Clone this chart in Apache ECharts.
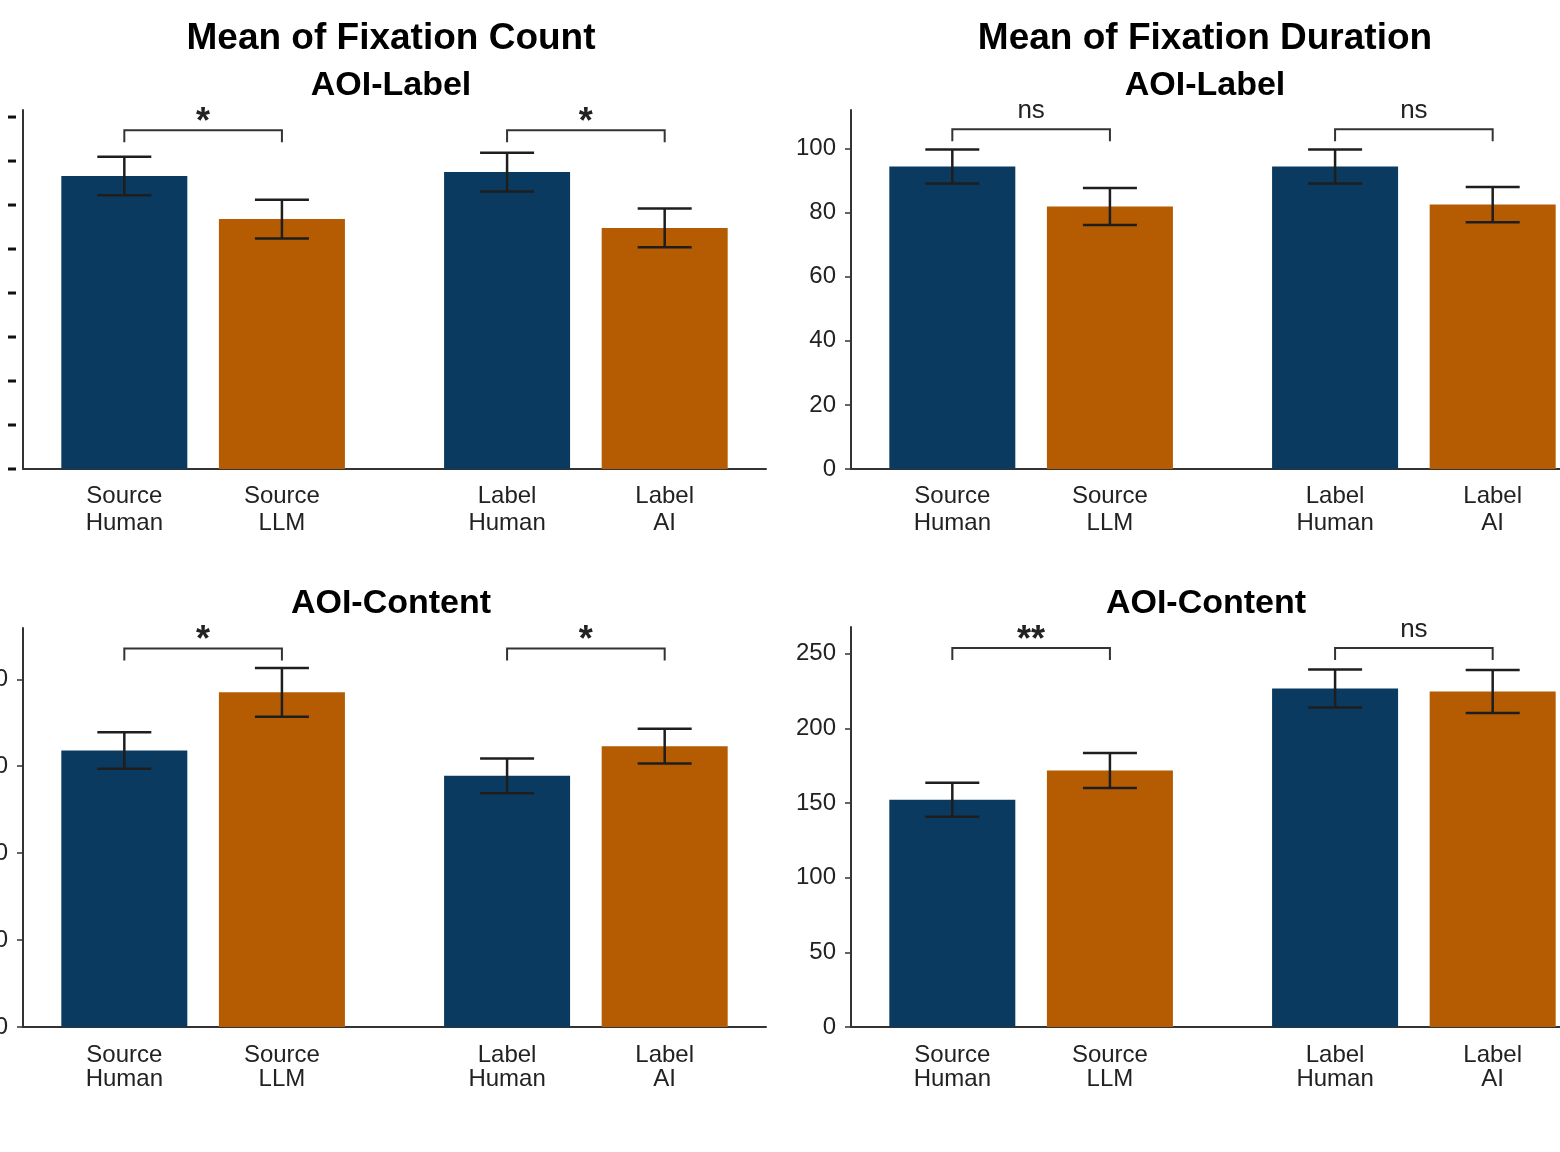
<!DOCTYPE html>
<html>
<head>
<meta charset="utf-8">
<script src="https://cdn.jsdelivr.net/npm/echarts@6/dist/echarts.min.js"></script>
<style>
  html, body { margin: 0; padding: 0; background: #fff; }
  #chart { width: 1560px; height: 1152px; }
</style>
</head>
<body>
<div id="chart"></div>
<script>
// bar labels (one per bar, left to right)
const barLabels = ['Source\nHuman', 'Source\nLLM', 'Label\nHuman', 'Label\nAI'];

// Mean of Fixation Count - AOI-Label
const countLabelMean = [6.66, 5.68, 6.75, 5.48];
const countLabelErr = [0.44, 0.44, 0.44, 0.44];
const countLabelSig = ['*', '*'];
const countLabelTicks = [0, 1, 2, 3, 4, 5, 6, 7, 8];

// Mean of Fixation Count - AOI-Content
const countContentMean = [63.6, 77.0, 57.8, 64.6];
const countContentErr = [4.2, 5.6, 4.0, 4.0];
const countContentSig = ['*', '*'];
const countContentTicks = [0, 20, 40, 60, 80];

// Mean of Fixation Duration - AOI-Label
const durLabelMean = [94.4, 81.9, 94.4, 82.5];
const durLabelErr = [5.3, 5.8, 5.3, 5.5];
const durLabelSig = ['ns', 'ns'];
const durLabelTicks = [0, 20, 40, 60, 80, 100];

// Mean of Fixation Duration - AOI-Content
const durContentMean = [152.3, 171.8, 226.8, 224.8];
const durContentErr = [11.4, 11.7, 12.7, 14.4];
const durContentSig = ['**', 'ns'];
const durContentTicks = [0, 50, 100, 150, 200, 250];

// layout: the x axis is split in narrow slots so the two groups get a wider gap
const SLOTS = 33;
const barSlot = [4, 11, 21, 28];
const pairs = [[0, 1], [2, 3]];
const colors = ['#0b3a60', '#b55c02', '#0b3a60', '#b55c02'];
const FONT = '"Liberation Sans", Arial, sans-serif';

const slotNames = [];
for (let i = 0; i < SLOTS; i++) {
  const k = barSlot.indexOf(i);
  slotNames.push(k >= 0 ? barLabels[k] : '');
}

const panels = [
  { mean: countLabelMean, err: countLabelErr, sig: countLabelSig, ticks: countLabelTicks,
    max: 8.16, bracket: 7.7, left: 23, top: 110, height: 359, dash: true, lh: 27, margin: 14 },
  { mean: durLabelMean, err: durLabelErr, sig: durLabelSig, ticks: durLabelTicks,
    max: 112, bracket: 106, left: 851, top: 110, height: 359, lh: 27, margin: 14 },
  { mean: countContentMean, err: countContentErr, sig: countContentSig, ticks: countContentTicks,
    max: 91.8, bracket: 87.1, left: 23, top: 628, height: 399, lh: 24, margin: 16 },
  { mean: durContentMean, err: durContentErr, sig: durContentSig, ticks: durContentTicks,
    max: 268, bracket: 254, left: 851, top: 627, height: 400, lh: 24, margin: 16 }
];

let chart = echarts.init(document.getElementById('chart'));

const grid = [], xAxis = [], yAxis = [], series = [];

panels.forEach((p, i) => {
  grid.push({ left: p.left, top: p.top, width: 743, height: p.height,
              containLabel: false, outerBoundsMode: 'none' });

  xAxis.push({
    type: 'category',
    gridIndex: i,
    data: slotNames,
    boundaryGap: true,
    axisLine: { lineStyle: { color: '#333', width: 2 } },
    axisTick: {
      alignWithLabel: true,
      length: 6,
      interval: (idx, val) => val !== '',
      lineStyle: { color: '#333', width: 1.5 }
    },
    axisLabel: {
      interval: 0,
      margin: p.margin,
      color: '#222',
      fontSize: 24,
      lineHeight: p.lh,
      fontFamily: FONT
    }
  });

  const yLabel = p.dash
    ? { customValues: p.ticks, margin: 7, formatter: () => '{d| }',
        rich: { d: { width: 8, height: 3, backgroundColor: '#111' } } }
    : { customValues: p.ticks, margin: 15, color: '#222', fontSize: 24, fontFamily: FONT };

  yAxis.push({
    type: 'value',
    gridIndex: i,
    min: 0,
    max: p.max,
    splitLine: { show: false },
    axisLine: { show: true, lineStyle: { color: '#333', width: 2 } },
    axisTick: { show: !p.dash, customValues: p.ticks, length: 6, lineStyle: { color: '#333', width: 1.5 } },
    axisLabel: yLabel
  });

  series.push({
    type: 'bar',
    xAxisIndex: i,
    yAxisIndex: i,
    barWidth: 126,
    data: p.mean.map((v, k) => ({ value: [barSlot[k], v], itemStyle: { color: colors[k] } }))
  });

  series.push({
    type: 'custom',
    xAxisIndex: i,
    yAxisIndex: i,
    z: 5,
    data: p.mean.map((v, k) => [barSlot[k], v, p.err[k]]),
    renderItem: (params, api) => {
      const x = api.value(0), m = api.value(1), e = api.value(2);
      const hi = api.coord([x, m + e]);
      const lo = api.coord([x, m - e]);
      const half = 27;
      const style = { stroke: '#1e1e1e', lineWidth: 2.5 };
      return {
        type: 'group',
        children: [
          { type: 'line', shape: { x1: hi[0], y1: hi[1], x2: lo[0], y2: lo[1] }, style },
          { type: 'line', shape: { x1: hi[0] - half, y1: hi[1], x2: hi[0] + half, y2: hi[1] }, style },
          { type: 'line', shape: { x1: lo[0] - half, y1: lo[1], x2: lo[0] + half, y2: lo[1] }, style }
        ]
      };
    }
  });

  series.push({
    type: 'custom',
    xAxisIndex: i,
    yAxisIndex: i,
    z: 5,
    data: pairs.map(pr => [barSlot[pr[0]], barSlot[pr[1]], p.bracket]),
    renderItem: (params, api) => {
      const a = api.coord([api.value(0), api.value(2)]);
      const b = api.coord([api.value(1), api.value(2)]);
      const drop = 12;
      const txt = p.sig[params.dataIndex];
      const star = txt.indexOf('*') >= 0;
      return {
        type: 'group',
        children: [
          { type: 'polyline',
            shape: { points: [[a[0], a[1] + drop], [a[0], a[1]], [b[0], b[1]], [b[0], b[1] + drop]] },
            style: { stroke: '#333', lineWidth: 2, fill: null } },
          { type: 'text', x: (a[0] + b[0]) / 2, y: a[1] - (star ? 7 : 18),
            style: { text: txt, fontSize: star ? 36 : 26, fontWeight: star ? 'bold' : 'normal',
                     fontFamily: FONT, fill: '#222', align: 'center', verticalAlign: 'middle' } }
        ]
      };
    }
  });
});

const titleStyle = { fontFamily: FONT, fontWeight: 'bold', color: '#000' };

let option = {
  backgroundColor: '#fff',
  animation: false,
  title: [
    { text: 'Mean of Fixation Count', left: 391, top: 20, textAlign: 'center', padding: 0,
      textStyle: Object.assign({ fontSize: 37 }, titleStyle) },
    { text: 'Mean of Fixation Duration', left: 1205, top: 20, textAlign: 'center', padding: 0,
      textStyle: Object.assign({ fontSize: 37 }, titleStyle) },
    { text: 'AOI-Label', left: 391, top: 69, textAlign: 'center', padding: 0,
      textStyle: Object.assign({ fontSize: 34 }, titleStyle) },
    { text: 'AOI-Label', left: 1205, top: 69, textAlign: 'center', padding: 0,
      textStyle: Object.assign({ fontSize: 34 }, titleStyle) },
    { text: 'AOI-Content', left: 391, top: 587, textAlign: 'center', padding: 0,
      textStyle: Object.assign({ fontSize: 34 }, titleStyle) },
    { text: 'AOI-Content', left: 1206, top: 587, textAlign: 'center', padding: 0,
      textStyle: Object.assign({ fontSize: 34 }, titleStyle) }
  ],
  grid: grid,
  xAxis: xAxis,
  yAxis: yAxis,
  series: series
};

chart.setOption(option);
</script>
</body>
</html>
